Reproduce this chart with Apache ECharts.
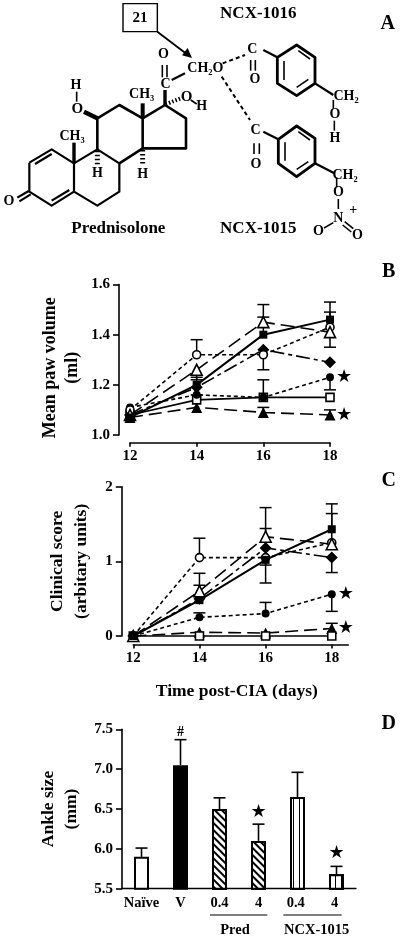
<!DOCTYPE html>
<html>
<head>
<meta charset="utf-8">
<title>NCX-1015 paw volume, clinical score, ankle size</title>
<script src="https://cdn.jsdelivr.net/npm/echarts@6/dist/echarts.min.js"></script>
<style>
  html, body { margin: 0; padding: 0; background: #fff; }
  #chart { width: 400px; height: 939px; }
</style>
</head>
<body>
<div id="chart"></div>
<script>
var days = [12, 14, 16, 18];

// panel B, mean paw volume. err: one sided, negative hangs below the point
var pawVehicle = [1.07, 1.20, 1.40, 1.46];
var pawVehicleErr = [0, 0.03, 0.07, 0.07];
var pawOpenTri = [1.08, 1.26, 1.45, 1.41];
var pawOpenTriErr = [0, -0.04, 0.07, 0.08];
var pawOpenCircle = [1.10, 1.32, 1.32, 1.43];
var pawOpenCircleErr = [0, 0.06, -0.06, -0.08];
var pawDiamond = [1.08, 1.19, 1.34, 1.29];
var pawDiamondErr = [0, -0.03, 0, 0];
var pawFilledCircle = [1.11, 1.16, 1.15, 1.23];
var pawFilledCircleErr = [0, 0, 0, -0.05];
var pawOpenSquare = [1.08, 1.14, 1.15, 1.15];
var pawOpenSquareErr = [0, 0, 0.07, 0];
var pawFilledTri = [1.07, 1.11, 1.09, 1.08];
var pawFilledTriErr = [0, 0, 0.02, 0.02];
var pawStars = [1.23, 1.08];

// panel C, clinical score
var scoreVehicle = [0, 0.48, 1.02, 1.43];
var scoreVehicleErr = [0, 0.20, -0.07, 0.34];
var scoreOpenTri = [0, 0.60, 1.33, 1.23];
var scoreOpenTriErr = [0, 0.24, 0.11, 0];
var scoreOpenCircle = [0, 1.05, 1.05, 1.25];
var scoreOpenCircleErr = [0, 0.26, 0.67, 0.39];
var scoreDiamond = [0, 0.50, 1.18, 1.05];
var scoreDiamondErr = [0, 0, -0.47, -0.20];
var scoreFilledCircle = [0, 0.25, 0.30, 0.56];
var scoreFilledCircleErr = [0, 0.06, 0.15, -0.23];
var scoreOpenSquare = [0, 0, 0, 0];
var scoreOpenSquareErr = [0, 0, 0, 0];
var scoreFilledTri = [0, 0.05, 0.04, 0.10];
var scoreFilledTriErr = [0, 0, 0, 0.07];
var scoreStars = [0.56, 0.10];

// panel D, ankle size
var ankleLabels = ['Naïve', 'V', '0.4', '4', '0.4 ', '4 '];
var ankleValues = [5.90, 7.05, 6.50, 6.10, 6.65, 5.68];
var ankleErr = [0.11, 0.32, 0.14, 0.21, 0.31, 0.10];
var ankleStars = ['-', '-', '-', 6.46, '-', 5.94];
var ankleHash = ['-', 7.46, '-', '-', '-', '-'];

var serif = '"Liberation Serif", "Times New Roman", serif';
var chart = echarts.init(document.getElementById('chart'));

function xy(values) {
  return days.map(function (d, i) { return [d, values[i]]; });
}

// vertical whisker with a cap, goes through the axes so it follows the scale
function whiskers(axisIndex, values, errs) {
  return {
    type: 'custom',
    xAxisIndex: axisIndex,
    yAxisIndex: axisIndex,
    z: 1,
    silent: true,
    clip: false,
    data: days.map(function (d, i) { return [d, values[i], values[i] + errs[i]]; }),
    renderItem: function (params, api) {
      var a = api.coord([api.value(0), api.value(1)]);
      var b = api.coord([api.value(0), api.value(2)]);
      if (a[1] === b[1]) return null;
      return {
        type: 'group',
        children: [
          { type: 'line', shape: { x1: a[0], y1: a[1], x2: b[0], y2: b[1] }, style: { stroke: '#000', lineWidth: 1.5 } },
          { type: 'line', shape: { x1: b[0] - 6, y1: b[1], x2: b[0] + 6, y2: b[1] }, style: { stroke: '#000', lineWidth: 1.5 } }
        ]
      };
    }
  };
}

function curve(axisIndex, values, symbol, size, open, dash, width) {
  return {
    type: 'line',
    xAxisIndex: axisIndex,
    yAxisIndex: axisIndex,
    z: 3,
    clip: false,
    data: xy(values),
    symbol: symbol,
    symbolSize: size,
    showAllSymbol: true,
    lineStyle: { color: '#000', width: width, type: dash },
    itemStyle: { color: open ? '#fff' : '#000', borderColor: '#000', borderWidth: open ? 1.6 : 0, opacity: 1 }
  };
}

var starLabel = {
  show: true, formatter: '\u2605', position: 'inside', opacity: 1,
  fontFamily: '"DejaVu Sans"', fontSize: 18, color: '#000'
};

function stars(values, axisIndex) {
  return {
    type: 'scatter',
    xAxisIndex: axisIndex,
    yAxisIndex: axisIndex,
    clip: false,
    symbolSize: 0,
    z: 4,
    itemStyle: { opacity: 1 },
    data: values.map(function (v) { return [18, v]; }),
    label: Object.assign({ offset: [14, 0] }, starLabel)
  };
}

function panelSeries(k, s) {
  return [
    whiskers(k, s.vehicle, s.vehicleErr),
    whiskers(k, s.openTri, s.openTriErr),
    whiskers(k, s.openCircle, s.openCircleErr),
    whiskers(k, s.diamond, s.diamondErr),
    whiskers(k, s.filledCircle, s.filledCircleErr),
    whiskers(k, s.openSquare, s.openSquareErr),
    whiskers(k, s.filledTri, s.filledTriErr),
    curve(k, s.filledTri, 'triangle', 11, false, [13, 6], 1.6),
    curve(k, s.openSquare, 'rect', 8, true, 'solid', 1.6),
    curve(k, s.filledCircle, 'circle', 8, false, [4, 3], 1.6),
    curve(k, s.diamond, 'diamond', 12, false, [14, 4, 4, 4], 1.6),
    curve(k, s.openCircle, 'circle', 8, true, [4, 3], 1.6),
    curve(k, s.openTri, 'triangle', 11, true, [14, 6], 1.6),
    curve(k, s.vehicle, 'rect', 8, false, 'solid', 2)
  ];
}

function valueAxis(k, min, max, interval, name, gap, off, digits, lh, pad) {
  return {
    type: 'value', gridIndex: k, min: min, max: max, interval: interval,
    offset: off,
    name: name, nameLocation: 'middle', nameRotate: 90, nameGap: gap,
    nameTextStyle: {
      fontFamily: serif, fontWeight: 'bold', fontSize: lh === 22 ? 18 : 17.5, lineHeight: lh, color: '#000',
      padding: [0, pad, 0, 0]
    },
    splitLine: { show: false },
    axisLine: { show: true, onZero: false, lineStyle: { color: '#000', width: 1.6 } },
    axisTick: { show: true, length: 6, lineStyle: { color: '#000', width: 1.6 } },
    axisLabel: {
      margin: 9, fontFamily: serif, fontWeight: 'bold', fontSize: 15, color: '#000',
      formatter: function (v) { return v.toFixed(digits); }
    }
  };
}

function dayAxis(k, max, off) {
  return {
    type: 'value', gridIndex: k, min: 12, max: max, interval: 2, offset: off,
    name: k === 1 ? 'Time post-CIA (days)' : '', nameLocation: 'middle', nameGap: 38,
    nameTextStyle: { fontFamily: serif, fontWeight: 'bold', fontSize: 17.5, color: '#000', padding: [0, 8, 0, 0] },
    splitLine: { show: false },
    axisLine: { show: true, onZero: false, lineStyle: { color: '#000', width: 1.6 } },
    axisTick: { show: true, length: 4, customValues: days, lineStyle: { color: '#000', width: 1.6 } },
    axisLabel: { margin: 6, customValues: days, fontFamily: serif, fontWeight: 'bold', fontSize: 15, color: '#000' }
  };
}

function s(v) { return v / 3; }

function bond(pts, width) {
  return {
    type: 'polyline', silent: true,
    shape: { points: pts.map(function (p) { return [s(p[0]), s(p[1])]; }) },
    style: { stroke: '#000', lineWidth: width || 2.2, fill: null, lineJoin: 'round' }
  };
}

function dashed(pts, width, dash) {
  var b = bond(pts, width);
  b.style.lineDash = dash;
  return b;
}

function txt(str, x, y, size, align) {
  return {
    type: 'text', silent: true, x: s(x), y: s(y),
    style: {
      text: str, fill: '#000', textAlign: align || 'center', textVerticalAlign: 'middle',
      font: 'bold ' + size + 'px ' + serif
    }
  };
}

var structure = [
  // steroid rings
  bond([[88, 488], [155, 448], [222, 490], [222, 575], [155, 617], [88, 575], [88, 488]]),
  bond([[105, 492], [155, 462]]),
  bond([[155, 602], [208, 570]]),
  bond([[86, 573], [52, 593]]),
  bond([[92, 583], [58, 604]]),
  bond([[222, 490], [292, 448], [358, 490], [358, 575], [292, 617], [222, 575]]),
  bond([[292, 448], [292, 355], [358, 315], [428, 355], [428, 445], [358, 490]], 2.6),
  bond([[428, 355], [495, 315], [558, 355], [558, 445], [428, 445]], 2.6),
  // substituents on the rings
  bond([[222, 490], [222, 428]], 3.4),
  bond([[428, 355], [428, 310]], 4),
  bond([[292, 355], [252, 335]], 4.5),
  bond([[230, 275], [230, 305]], 1.6),
  dashed([[292, 452], [292, 495]], 5, [1.5, 2.5]),
  dashed([[428, 450], [428, 495]], 5, [1.5, 2.5]),
  bond([[495, 315], [495, 270]], 3.4),
  dashed([[497, 313], [542, 295]], 4, [1.5, 2]),
  bond([[572, 300], [590, 312]], 1.6),
  bond([[487, 195], [487, 232]], 1.6),
  bond([[501, 195], [501, 232]], 1.6),
  bond([[515, 240], [555, 220]]),
  // box and arrow for carbon 21
  { type: 'rect', silent: true, shape: { x: s(369), y: s(11), width: s(103), height: s(84) }, style: { fill: '#fff', stroke: '#000', lineWidth: 1.4 } },
  bond([[472, 95], [560, 162]], 1.8),
  { type: 'polygon', silent: true, shape: { points: [[s(576), s(174)], [s(546), s(166)], [s(563), s(144)]] }, style: { fill: '#000' } },
  // ester links
  dashed([[668, 190], [735, 165]], 2, [4, 3]),
  dashed([[665, 230], [750, 360]], 2, [4, 3]),
  // NCX-1016 side
  bond([[752, 180], [752, 212]], 1.6),
  bond([[766, 180], [766, 212]], 1.6),
  bond([[790, 150], [832, 172]]),
  bond([[832, 172], [890, 135], [945, 172], [945, 250], [890, 287], [832, 250], [832, 172]], 2.8),
  bond([[852, 183], [852, 240]], 1.6),
  bond([[895, 152], [930, 177]], 1.6),
  bond([[890, 262], [925, 238]], 1.6),
  bond([[945, 250], [1000, 285]]),
  bond([[1000, 300], [1000, 325]], 1.6),
  bond([[1003, 362], [1003, 392]], 1.6),
  // NCX-1015 side
  bond([[762, 430], [762, 462]], 1.6),
  bond([[778, 430], [778, 462]], 1.6),
  bond([[790, 395], [835, 418]]),
  bond([[835, 418], [890, 378], [945, 415], [945, 490], [890, 530], [835, 490], [835, 418]], 2.8),
  bond([[855, 427], [855, 482]], 1.6),
  bond([[895, 395], [930, 420]], 1.6),
  bond([[890, 508], [925, 485]], 1.6),
  bond([[945, 490], [1003, 520]]),
  bond([[1010, 532], [1010, 562]], 1.6),
  bond([[1015, 597], [1015, 627]], 1.6),
  bond([[1000, 668], [972, 684]], 1.6),
  bond([[1034, 665], [1060, 686]], 1.6),
  bond([[1028, 675], [1054, 696]], 1.6),
  // atom labels
  txt('21', 420, 55, 15),
  txt('O', 490, 162, 14),
  txt('C', 497, 253, 14),
  txt('CH\u2082O', 562, 205, 14, 'left'),
  txt('H', 228, 255, 14),
  txt('O', 232, 328, 15),
  txt('CH\u2083', 216, 408, 14),
  txt('CH\u2083', 425, 282, 14),
  txt('H', 292, 519, 14),
  txt('H', 428, 522, 14),
  txt('O', 560, 290, 15),
  txt('H', 605, 320, 14),
  txt('O', 27, 605, 14),
  txt('C', 757, 147, 14),
  txt('O', 765, 237, 14),
  txt('CH\u2082', 1038, 288, 14),
  txt('O', 1005, 342, 14),
  txt('H', 1005, 415, 14),
  txt('C', 767, 392, 14),
  txt('O', 768, 493, 14),
  txt('CH\u2082', 1035, 525, 14),
  txt('O', 1015, 578, 14),
  txt('N', 1015, 655, 14),
  txt('+', 1060, 632, 14),
  txt('O', 955, 695, 14),
  txt('O', 1072, 705, 14),
  txt('NCX-1016', 775, 40, 17),
  txt('NCX-1015', 775, 685, 17),
  txt('Prednisolone', 355, 685, 17),
  // panel letters
  txt('A', 1163, 70, 20),
  txt('B', 1166, 816, 20),
  txt('C', 1166, 1443, 20),
  txt('D', 1166, 2172, 20),
  // groups under panel D
  bond([[630, 2745], [802, 2745]], 1.2),
  bond([[850, 2745], [1025, 2745]], 1.2),
  txt('Pred', 705, 2790, 14.5),
  txt('NCX-1015', 950, 2790, 14.5)
];

var hatch = { symbol: 'rect', dashArrayX: [1, 0], dashArrayY: [1.4, 2.6], rotation: Math.PI / 4, color: '#000', backgroundColor: '#fff' };
var stripes = { symbol: 'rect', dashArrayX: [1, 0], dashArrayY: [1, 4.2], rotation: Math.PI / 2, color: '#000', backgroundColor: '#fff' };

var barStyles = [
  { color: '#fff', borderColor: '#000', borderWidth: 2 },
  { color: '#000', borderColor: '#000', borderWidth: 2 },
  { color: '#fff', borderColor: '#000', borderWidth: 2, decal: hatch },
  { color: '#fff', borderColor: '#000', borderWidth: 2, decal: hatch },
  { color: '#fff', borderColor: '#000', borderWidth: 2, decal: stripes },
  { color: '#fff', borderColor: '#000', borderWidth: 2, decal: stripes }
];

var series = []
  .concat(panelSeries(0, {
    vehicle: pawVehicle, vehicleErr: pawVehicleErr, openTri: pawOpenTri, openTriErr: pawOpenTriErr,
    openCircle: pawOpenCircle, openCircleErr: pawOpenCircleErr, diamond: pawDiamond, diamondErr: pawDiamondErr,
    filledCircle: pawFilledCircle, filledCircleErr: pawFilledCircleErr, openSquare: pawOpenSquare, openSquareErr: pawOpenSquareErr,
    filledTri: pawFilledTri, filledTriErr: pawFilledTriErr
  }))
  .concat(panelSeries(1, {
    vehicle: scoreVehicle, vehicleErr: scoreVehicleErr, openTri: scoreOpenTri, openTriErr: scoreOpenTriErr,
    openCircle: scoreOpenCircle, openCircleErr: scoreOpenCircleErr, diamond: scoreDiamond, diamondErr: scoreDiamondErr,
    filledCircle: scoreFilledCircle, filledCircleErr: scoreFilledCircleErr, openSquare: scoreOpenSquare, openSquareErr: scoreOpenSquareErr,
    filledTri: scoreFilledTri, filledTriErr: scoreFilledTriErr
  }))
  .concat([
    stars(pawStars, 0),
    stars(scoreStars, 1),
    {
      type: 'custom', xAxisIndex: 2, yAxisIndex: 2, z: 1, silent: true,
      data: ankleLabels.map(function (c, i) { return [i, ankleValues[i], ankleValues[i] + ankleErr[i]]; }),
      renderItem: function (params, api) {
        var a = api.coord([api.value(0), api.value(1)]);
        var b = api.coord([api.value(0), api.value(2)]);
        return {
          type: 'group',
          children: [
            { type: 'line', shape: { x1: a[0], y1: a[1], x2: b[0], y2: b[1] }, style: { stroke: '#000', lineWidth: 1.6 } },
            { type: 'line', shape: { x1: b[0] - 6, y1: b[1], x2: b[0] + 6, y2: b[1] }, style: { stroke: '#000', lineWidth: 1.6 } }
          ]
        };
      }
    },
    {
      type: 'bar', xAxisIndex: 2, yAxisIndex: 2, z: 2, barWidth: 15,
      data: ankleValues.map(function (v, i) {
        return { value: v, itemStyle: barStyles[i] };
      })
    },
    {
      type: 'scatter', xAxisIndex: 2, yAxisIndex: 2, symbolSize: 0, z: 4, clip: false,
      itemStyle: { opacity: 1 },
      data: ankleStars,
      label: starLabel
    },
    {
      type: 'scatter', xAxisIndex: 2, yAxisIndex: 2, symbolSize: 0, z: 4, clip: false,
      itemStyle: { opacity: 1 },
      data: ankleHash,
      label: { show: true, formatter: '#', position: 'inside', opacity: 1, fontFamily: serif, fontWeight: 'bold', fontSize: 14, color: '#000' }
    }
  ]);

chart.setOption({
  animation: false,
  backgroundColor: '#fff',
  graphic: { elements: structure },
  grid: [
    { left: 130, top: 284.5, width: 200, height: 150.5 },
    { left: 133.3, top: 486.7, width: 215, height: 149.3 },
    { left: 122, top: 729.3, width: 234, height: 159.4 }
  ],
  xAxis: [
    dayAxis(0, 18, 7.7),
    dayAxis(1, 18.5, 8.5),
    {
      type: 'category', gridIndex: 2, data: ankleLabels,
      axisLine: { show: true, onZero: false, lineStyle: { color: '#000', width: 1.4 } },
      axisTick: { show: false },
      axisLabel: { interval: 0, margin: 7, fontFamily: serif, fontWeight: 'bold', fontSize: 14.5, color: '#000' }
    }
  ],
  yAxis: [
    valueAxis(0, 1, 1.6, 0.2, 'Mean paw volume\n(ml)', 36, 11, 1, 22, 16),
    valueAxis(1, 0, 2, 1, 'Clinical score\n(arbitary units)', 28, 11.5, 0, 24, 0),
    valueAxis(2, 5.5, 7.5, 0.5, 'Ankle size\n(mm)', 28, 0, 1, 23, 0)
  ],
  series: series
});
</script>
</body>
</html>
